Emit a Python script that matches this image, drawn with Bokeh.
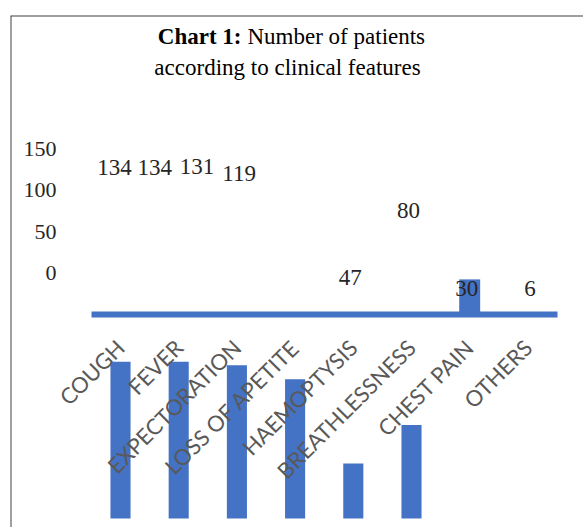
import math
from bokeh.plotting import figure
from bokeh.models import Range1d, LinearAxis, FixedTicker, Span, Label, ColumnDataSource
from bokeh.core.properties import value
from bokeh.embed import file_html
from bokeh.resources import INLINE

# ---------------- data ----------------
categories = ["COUGH", "FEVER", "EXPECTORATION", "LOSS OF APETITE",
              "HAEMOPTYSIS", "BREATHLESSNESS", "CHEST PAIN", "OTHERS"]
patients = [134, 134, 131, 119, 47, 80, 30, 6]
y_ticks = [0, 50, 100, 150]
title_bold = "Chart 1:"
title_rest = "Number of patients"
title_line2 = "according to clinical features"

# ---------------- layout (pixels) ----------------
W, H = 583, 527
LEFT, TOP = 10, 15
FW, FH = W - LEFT, H - TOP
PX_CAT = 58.2          # px per category
FIRST_CAT_PX = 120     # centre of first category
K_BAR = 1.17           # px per patient (bars)
BAR_BASE_PX = 518
UPPER_BASE_PX = 314
K_AXIS = 0.827         # px per unit of the printed value axis
AXIS_ZERO_PX = 272.4
Y_AXIS_PX = 56

X_START = -(FIRST_CAT_PX - LEFT) / PX_CAT
X_END = X_START + FW / PX_CAT
Y_START = -(H - BAR_BASE_PX) / K_BAR
Y_END = Y_START + FH / K_BAR
U_START = -(H - UPPER_BASE_PX) / K_BAR
U_END = U_START + FH / K_BAR
A_START = -(H - AXIS_ZERO_PX) / K_AXIS
A_END = A_START + FH / K_AXIS

# data-label nudges in px (the original's labels are displaced)
label_dx = [-6, -24, -40, -56, -3, -3, -3, 2]
label_dy = [5, 5, 2, -1, 43, 4, 40, 21]

BLUE = "#4472C4"

p = figure(width=W, height=H, x_range=Range1d(X_START, X_END),
           y_range=Range1d(Y_START, Y_END), output_backend="svg",
           toolbar_location=None, x_axis_location=None, y_axis_location=None,
           min_border_left=LEFT, min_border_top=TOP, min_border_right=0,
           min_border_bottom=0)
p.outline_line_color = None
p.xgrid.grid_line_color = None
p.ygrid.grid_line_color = None
p.background_fill_color = "white"
p.border_fill_color = "white"
p.extra_y_ranges = {"upper": Range1d(U_START, U_END),
                    "axis": Range1d(A_START, A_END)}

idx = list(range(len(categories)))
n_low = categories.index("CHEST PAIN")

low = ColumnDataSource(dict(x=idx[:n_low], top=patients[:n_low]))
p.vbar(x="x", top="top", bottom=0, width=0.345, source=low,
       fill_color=BLUE, line_color=None)

up = ColumnDataSource(dict(x=[idx[n_low]], top=[patients[n_low]]))
p.vbar(x="x", top="top", bottom=0, width=0.36, source=up,
       fill_color=BLUE, line_color=None, y_range_name="upper")

# category axis (the thick blue line)
xaxis = LinearAxis(fixed_location=0, y_range_name="upper",
                   ticker=FixedTicker(ticks=idx),
                   major_label_overrides={i: c for i, c in zip(idx, categories)},
                   bounds=(-0.5, len(categories) - 0.5),
                   axis_line_color=BLUE, axis_line_width=6,
                   major_tick_line_color=None, minor_tick_line_color=None,
                   major_tick_out=0, major_tick_in=0,
                   major_label_orientation=math.pi / 4,
                   major_label_text_font="Lato",
                   major_label_text_font_size="22px",
                   major_label_text_color="#595959",
                   major_label_standoff=29)
p.add_layout(xaxis, "below")

# value axis
yaxis = LinearAxis(y_range_name="axis",
                   fixed_location=X_START + (Y_AXIS_PX - LEFT) / PX_CAT,
                   ticker=FixedTicker(ticks=y_ticks),
                   axis_line_color=None, major_tick_line_color=None,
                   minor_tick_line_color=None, major_tick_out=0, major_tick_in=0,
                   major_label_text_font="Liberation Serif",
                   major_label_text_font_size="22px",
                   major_label_text_color="#262626",
                   major_label_standoff=0)
p.add_layout(yaxis, "left")

# data labels
lab = ColumnDataSource(dict(x=idx, y=patients, t=[str(v) for v in patients],
                            dx=label_dx, dy=label_dy))
p.text(x="x", y="y", text="t", x_offset="dx", y_offset="dy", source=lab,
       y_range_name="axis", text_font=value("Liberation Serif"),
       text_font_size="23px", text_align="center", text_baseline="middle",
       text_color="#262626")

# border
p.add_layout(Span(location=X_START, dimension="height",
                  line_color="#404040", line_width=2))
p.add_layout(Span(location=Y_END, dimension="width",
                  line_color="#404040", line_width=2))

# title
SPLIT = 241 - LEFT
p.add_layout(Label(x=SPLIT, y=H - 36, x_units="screen", y_units="screen",
                   text=title_bold, text_font="Liberation Serif",
                   text_font_style="bold", text_font_size="23px",
                   text_align="right", text_baseline="middle",
                   text_color="black"))
p.add_layout(Label(x=SPLIT + 6, y=H - 36, x_units="screen", y_units="screen",
                   text=title_rest, text_font="Liberation Serif",
                   text_font_size="23px", text_align="left",
                   text_baseline="middle", text_color="black"))
p.add_layout(Label(x=287 - LEFT, y=H - 67, x_units="screen", y_units="screen",
                   text=title_line2, text_font="Liberation Serif",
                   text_font_size="23px", text_align="center",
                   text_baseline="middle", text_color="black"))

open("out.html", "w").write(file_html(p, INLINE))
